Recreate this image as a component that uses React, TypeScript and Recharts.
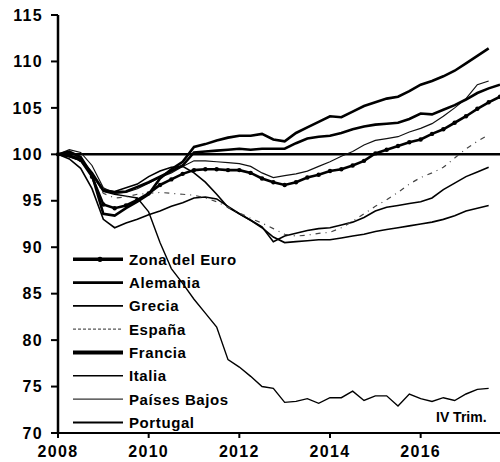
import { LineChart, Line, XAxis, YAxis, ReferenceLine } from 'recharts';

const FONT = '"Liberation Sans", Arial, sans-serif';

// quarterly positions, 2008 T1 .. 2017 T4
const quarters = [
  2008, 2008.25, 2008.5, 2008.75, 2009, 2009.25, 2009.5, 2009.75,
  2010, 2010.25, 2010.5, 2010.75, 2011, 2011.25, 2011.5, 2011.75,
  2012, 2012.25, 2012.5, 2012.75, 2013, 2013.25, 2013.5, 2013.75,
  2014, 2014.25, 2014.5, 2014.75, 2015, 2015.25, 2015.5, 2015.75,
  2016, 2016.25, 2016.5, 2016.75, 2017, 2017.25, 2017.5, 2017.75,
];

const xTicks = [2008, 2010, 2012, 2014, 2016];
const yTicks = [70, 75, 80, 85, 90, 95, 100, 105, 110, 115];

const zonaEuro = [
  100, 99.9, 99.4, 97.6, 94.6, 94.2, 94.5, 95.1, 95.8, 96.7, 97.3, 97.9,
  98.3, 98.4, 98.4, 98.3, 98.3, 98.0, 97.4, 97.0, 96.7, 97.0, 97.5, 97.8,
  98.2, 98.4, 98.8, 99.3, 100.1, 100.5, 100.9, 101.3, 101.6, 102.2, 102.7, 103.4,
  104.1, 104.9, 105.6, 106.2,
];
const alemania = [
  100, 100.3, 99.7, 97.8, 93.6, 93.4, 94.2, 94.9, 95.7, 97.4, 98.4, 99.2,
  100.8, 101.1, 101.5, 101.8, 102.0, 102.0, 102.2, 101.6, 101.4, 102.3, 102.9, 103.5,
  104.1, 104.0, 104.6, 105.2, 105.6, 106.0, 106.2, 106.8, 107.5, 107.9, 108.4, 109.0,
  109.8, 110.6, 111.4, null,
];
const grecia = [
  100, 100.2, 99.5, 97.8, 96.0, 95.7, 95.5, 95.3, 93.8, 90.5, 87.7, 86.1,
  84.4, 82.9, 81.4, 77.9, 77.1, 76.1, 75.0, 74.8, 73.3, 73.4, 73.7, 73.2,
  73.8, 73.8, 74.5, 73.5, 74.0, 74.0, 72.9, 74.2, 73.7, 73.4, 73.8, 73.5,
  74.2, 74.7, 74.8, null,
];
const espana = [
  100, 100.2, 99.4, 98.0, 95.8, 95.3, 95.4, 95.7, 95.8, 95.9, 95.8, 95.7,
  95.6, 95.3, 94.9, 94.3, 93.7, 93.1, 92.6, 92.0, 91.4, 91.2, 91.3, 91.5,
  91.6, 92.1, 92.8, 93.6, 94.4, 95.1, 95.9, 96.8, 97.5, 98.0, 98.6, 99.6,
  100.6, 101.4, 102.1, null,
];
const francia = [
  100, 99.8, 99.4, 98.0, 96.1, 95.9, 96.0, 96.5, 97.0, 97.6, 98.2, 98.8,
  100.2, 100.3, 100.4, 100.5, 100.6, 100.5, 100.6, 100.6, 100.6, 101.2, 101.7, 101.9,
  102.0, 102.3, 102.7, 103.0, 103.2, 103.3, 103.4, 103.8, 104.4, 104.3, 104.8, 105.3,
  105.9, 106.6, 107.1, 107.5,
];
const italia = [
  100, 99.5, 98.5, 96.3, 93.0, 92.1, 92.6, 93.0, 93.5, 93.9, 94.4, 94.8,
  95.3, 95.4, 95.2, 94.4, 93.6, 92.9, 92.1, 91.1, 90.5, 90.6, 90.7, 90.8,
  90.8, 91.0, 91.2, 91.4, 91.7, 91.9, 92.1, 92.3, 92.5, 92.7, 93.0, 93.4,
  93.9, 94.2, 94.5, null,
];
const paisesBajos = [
  100, 100.5, 100.2, 98.8, 96.4, 95.8, 95.9, 96.3, 96.9, 97.5, 98.0, 98.7,
  99.3, 99.3, 99.2, 99.1, 99.0, 98.7, 98.0, 97.5, 97.7, 97.9, 98.2, 98.7,
  99.2, 99.8, 100.3, 101.0, 101.5, 101.7, 101.9, 102.4, 102.8, 103.3, 104.1, 105.0,
  106.0, 107.5, 107.9, null,
];
const portugal = [
  100, 99.8, 99.3, 97.9, 96.2, 96.0, 96.4, 96.8, 97.6, 98.2, 98.6, 98.7,
  98.0, 97.0, 95.7, 94.3, 93.6, 92.9, 92.2, 90.6, 91.2, 91.5, 91.8, 92.0,
  92.1, 92.4, 92.7, 93.2, 93.9, 94.3, 94.5, 94.7, 94.9, 95.3, 96.2, 96.9,
  97.6, 98.1, 98.6, null,
];

const data = quarters.map((t, i) => ({
  t,
  zonaEuro: zonaEuro[i],
  alemania: alemania[i],
  grecia: grecia[i],
  espana: espana[i],
  francia: francia[i],
  italia: italia[i],
  paisesBajos: paisesBajos[i],
  portugal: portugal[i],
}));

// drawing order: thin lines first, thick ones on top
const series = [
  { key: 'grecia', name: 'Grecia', width: 1.4, color: '#000', dash: undefined },
  { key: 'italia', name: 'Italia', width: 1.6, color: '#000', dash: undefined },
  { key: 'portugal', name: 'Portugal', width: 1.6, color: '#000', dash: undefined },
  { key: 'espana', name: 'España', width: 1.2, color: '#444', dash: '5 5 1 5' },
  { key: 'paisesBajos', name: 'Países Bajos', width: 1.2, color: '#111', dash: undefined },
  { key: 'francia', name: 'Francia', width: 2.6, color: '#000', dash: undefined },
  { key: 'alemania', name: 'Alemania', width: 2.6, color: '#000', dash: undefined },
  { key: 'zonaEuro', name: 'Zona del Euro', width: 2.6, color: '#000', dash: undefined },
];

const legendItems = [
  { name: 'Zona del Euro', width: 3.5, color: '#000', dash: undefined, dot: true },
  { name: 'Alemania', width: 2.6, color: '#000', dash: undefined, dot: false },
  { name: 'Grecia', width: 1.6, color: '#000', dash: undefined, dot: false },
  { name: 'España', width: 1.3, color: '#555', dash: '3 2', dot: false },
  { name: 'Francia', width: 4, color: '#000', dash: undefined, dot: false },
  { name: 'Italia', width: 1.6, color: '#000', dash: undefined, dot: false },
  { name: 'Países Bajos', width: 1.2, color: '#333', dash: undefined, dot: false },
  { name: 'Portugal', width: 2, color: '#000', dash: undefined, dot: false },
];

const tickStyle = { fill: '#000', fontSize: 16, fontWeight: 700, fontFamily: FONT, letterSpacing: 1.3 };

export default function App() {
  return (
    <div style={{ position: 'absolute', left: 0, top: 0, width: 500, height: 462, background: '#fff' }}>
      <LineChart width={500} height={462} data={data} margin={{ top: 15, right: 0, bottom: 0, left: 0 }}>
        <XAxis
          dataKey="t"
          type="number"
          domain={[2008, 2017.75]}
          ticks={xTicks}
          tickFormatter={(v) => String(v)}
          height={29}
          tickSize={5}
          tickMargin={8}
          axisLine={{ stroke: '#000', strokeWidth: 2 }}
          tickLine={{ stroke: '#000', strokeWidth: 2 }}
          tick={tickStyle}
        />
        <YAxis
          domain={[70, 115]}
          ticks={yTicks}
          width={58}
          tickSize={7}
          tickMargin={8}
          axisLine={{ stroke: '#000', strokeWidth: 2.5 }}
          tickLine={{ stroke: '#000', strokeWidth: 2 }}
          tick={tickStyle}
        />
        <ReferenceLine y={100} stroke="#000" strokeWidth={2.5} />
        {series.map((s) => (
          <Line
            key={s.key}
            type="linear"
            dataKey={s.key}
            name={s.name}
            stroke={s.color}
            strokeWidth={s.width}
            strokeDasharray={s.dash}
            dot={s.key === 'zonaEuro' ? { r: 2.2, fill: '#000', stroke: '#000', strokeWidth: 0 } : false}
            activeDot={false}
            isAnimationActive={false}
          />
        ))}
      </LineChart>
      <svg width={500} height={462} style={{ position: 'absolute', left: 0, top: 0, pointerEvents: 'none' }}>
        {legendItems.map((it, k) => {
          const y = 259.3 + k * 23.3;
          return (
            <g key={it.name}>
              <line x1={73} x2={123} y1={y} y2={y} stroke={it.color} strokeWidth={it.width} strokeDasharray={it.dash} />
              {it.dot && <circle cx={100} cy={y} r={2.6} fill="#000" />}
              <text x={129} y={y + 5.5} fontFamily={FONT} fontSize={15} fontWeight={700} letterSpacing={0.6} fill="#000">
                {it.name}
              </text>
            </g>
          );
        })}
        <text x={436} y={422} fontFamily={FONT} fontSize={14} fontWeight={700} fill="#000">
          IV Trim.
        </text>
      </svg>
    </div>
  );
}
